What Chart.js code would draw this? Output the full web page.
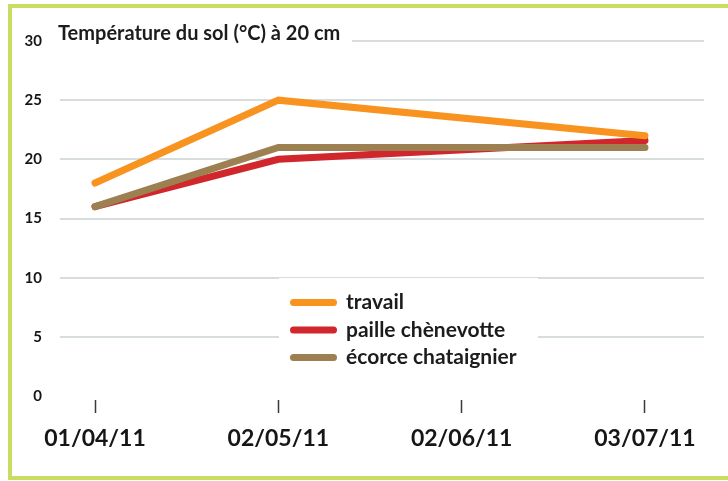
<!DOCTYPE html>
<html>
<head>
<meta charset="utf-8">
<script src="https://cdn.jsdelivr.net/npm/chart.js@4/dist/chart.umd.min.js"></script>
<style>
  html, body { margin: 0; padding: 0; background: #fff; }
  #wrap { position: relative; width: 728px; height: 481px; overflow: hidden; }
  #frame {
    position: absolute; left: 8px; top: 4px; width: 760px; height: 468px;
    border: 4px solid #c8dd62; border-right: none; pointer-events: none;
  }
  canvas { position: absolute; left: 0; top: 0; }
</style>
</head>
<body>
<div id="wrap">
  <canvas id="chart" width="728" height="481"></canvas>
  <div id="frame"></div>
</div>
<script>
const DATES = ["01/04/11", "02/05/11", "02/06/11", "03/07/11"];
const Y_TICKS = [0, 5, 10, 15, 20, 25, 30];

// no reading on 02/06/11, the lines run straight across it
const TRAVAIL = [18, 25, null, 22];
const PAILLE = [16, 20, null, 21.6];
const ECORCE = [16, 21, null, 21];

const TITLE = "Température du sol (°C) à 20 cm";
const FONT = "Lato, 'Open Sans', sans-serif";

function points(values) {
  return values.map((v, i) => ({ x: i, y: v }));
}

function series(label, values, color, order) {
  return {
    label,
    data: points(values),
    borderColor: color,
    backgroundColor: color,
    borderWidth: 7,
    borderCapStyle: "round",
    pointRadius: 0,
    spanGaps: true,
    order,
  };
}

// white patches break the gridlines behind the title and the legend,
// then the title and legend are written on top
const decor = {
  id: "decor",
  beforeDatasetsDraw(chart) {
    const { ctx, chartArea } = chart;
    ctx.save();
    ctx.fillStyle = "#fff";
    ctx.fillRect(chartArea.left - 2, 22, 354 - chartArea.left, 30);
    ctx.fillRect(279, 278, 259, 95);
    ctx.restore();
  },
  afterDatasetsDraw(chart) {
    const { ctx } = chart;
    ctx.save();
    ctx.fillStyle = "#1c1c1c";
    ctx.textBaseline = "middle";
    ctx.font = "bold 20px " + FONT;
    ctx.fillText(TITLE, 58, 34);

    [0, 1, 2].forEach((i) => {
      const ds = chart.data.datasets[i];
      const y = 302.5 + i * 27.5;
      ctx.strokeStyle = ds.borderColor;
      ctx.lineWidth = 7;
      ctx.lineCap = "round";
      ctx.beginPath();
      ctx.moveTo(293.5, y);
      ctx.lineTo(333.5, y);
      ctx.stroke();
      ctx.font = "bold 21px " + FONT;
      ctx.fillText(ds.label, 346, y);
    });
    ctx.restore();
  },
};

new Chart(document.getElementById("chart").getContext("2d"), {
  type: "line",
  data: {
    datasets: [
      series("travail", TRAVAIL, "#f7931e", 0),
      series("paille chènevotte", PAILLE, "#d1262b", 2),
      series("écorce chataignier", ECORCE, "#9d8052", 1),
    ],
  },
  options: {
    responsive: false,
    animation: false,
    devicePixelRatio: 1,
    layout: { padding: { top: 41, right: 24, left: 0, bottom: 0 } },
    plugins: {
      legend: { display: false },
      tooltip: { enabled: false },
    },
    scales: {
      x: {
        type: "linear",
        min: -0.191,
        max: 3.322,
        afterBuildTicks: (s) => {
          s.ticks = DATES.map((_, i) => ({ value: i }));
        },
        afterFit: (s) => {
          s.height = 85;
        },
        border: { display: false },
        grid: {
          drawOnChartArea: false,
          drawTicks: true,
          tickLength: 17,
          tickWidth: 1.5,
          tickColor: "#3a3a3a",
          tickBorderDash: [0, 4, 13, 100],
        },
        ticks: {
          callback: (v) => DATES[v],
          color: "#161616",
          font: { family: FONT, size: 23, weight: "bold" },
          padding: 12,
          maxRotation: 0,
          autoSkip: false,
        },
      },
      y: {
        min: 0,
        max: 30,
        afterBuildTicks: (s) => {
          s.ticks = Y_TICKS.map((v) => ({ value: v }));
        },
        afterFit: (s) => {
          s.width = 60;
        },
        border: { display: false },
        grid: {
          drawTicks: false,
          lineWidth: 2,
          color: (c) => (c.tick && c.tick.value === 0 ? "rgba(0,0,0,0)" : "#d7dcdf"),
        },
        ticks: {
          color: "#161616",
          font: { family: FONT, size: 15, weight: "bold" },
          padding: 18,
        },
      },
    },
  },
  plugins: [decor],
});
</script>
</body>
</html>
